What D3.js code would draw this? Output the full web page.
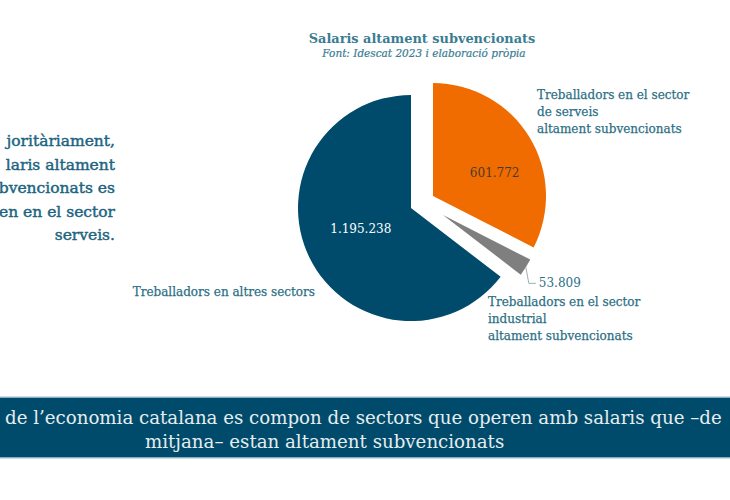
<!DOCTYPE html>
<html lang="ca">
<head>
<meta charset="UTF-8">
<title>Salaris altament subvencionats</title>
<style>
  body { margin: 0; background: #fff; }
  svg { display: block; }
</style>
</head>
<body>
<script src="https://d3js.org/d3.v7.min.js"></script>
<script>
// dades (Idescat 2023)
const sectors = ["serveis", "industrial", "altres"];
const treballadors = [601772, 53809, 1195238];
const etiquetes = [
  ["Treballadors en el sector", "de serveis", "altament subvencionats"],
  ["Treballadors en el sector", "industrial", "altament subvencionats"],
  ["Treballadors en altres sectors"]
];
const colors = ["#f06c00", "#7f7f7f", "#004b6b"];

// text tal com es veu (retallat pel marge esquerre)
const textEsquerra = ["joritàriament,", "laris altament", "bvencionats es", "en en el sector", "serveis."];
const textBanda = ["de l’economia catalana es compon de sectors que operen amb salaris que –de", "mitjana– estan altament subvencionats"];

const width = 730, height = 500;
const serif = "'DejaVu Serif', 'Liberation Serif', serif";
const teal = "#2c6f85";

const svg = d3.select("body").append("svg")
  .attr("width", width)
  .attr("height", height);

// titol
svg.append("text")
  .attr("x", 422).attr("y", 43)
  .attr("text-anchor", "middle")
  .attr("font-family", serif).attr("font-size", 12.9).attr("font-weight", "bold")
  .attr("fill", "#3a7d92")
  .text("Salaris altament subvencionats");
svg.append("text")
  .attr("x", 424).attr("y", 57)
  .attr("text-anchor", "middle")
  .attr("font-family", serif).attr("font-size", 10.5).attr("font-style", "italic")
  .attr("fill", "#3a7d92")
  .attr("stroke", "#3a7d92").attr("stroke-width", 0.2)
  .text("Font: Idescat 2023 i elaboració pròpia");

// pastis
const cx = 411, cy = 208;
const radi = [113, 98, 113];
const desplac = [[22, -12], [32, 7], [0, 0]]; // explosio de cada porcio
const posValor = [[1.28, 15], null, [1.05, -5]];   // factor de radi i ajust vertical

const pie = d3.pie().sort(null).value(d => d)(treballadors);
const fmt = d3.formatLocale({ decimal: ",", thousands: ".", grouping: [3], currency: ["", "€"] }).format(",d");

const g = svg.append("g").attr("transform", `translate(${cx},${cy})`);

const slices = g.selectAll("g.slice")
  .data(pie)
  .join("g")
  .attr("class", "slice")
  .attr("transform", (d, i) => `translate(${desplac[i][0]},${desplac[i][1]})`);

slices.append("path")
  .attr("d", (d, i) => d3.arc().innerRadius(0).outerRadius(radi[i])(d))
  .attr("fill", (d, i) => colors[i]);

// valors dins les porcions grans
slices.filter(d => d.index !== 1)
  .append("text")
  .attr("transform", d => {
    const k = d.index;
    const c = d3.arc().innerRadius(0).outerRadius(radi[k] * posValor[k][0]).centroid(d);
    return `translate(${c[0] + (k === 2 ? 3 : 0)},${c[1] + posValor[k][1]})`;
  })
  .attr("text-anchor", "middle")
  .attr("dominant-baseline", "central")
  .attr("font-family", serif).attr("font-size", 12)
  .attr("fill", d => d.index === 0 ? "#4a3a30" : "#ffffff")
  .text(d => fmt(d.value));

// valor de la porcio petita amb linia guia
const petita = pie[1];
const aMig = (petita.startAngle + petita.endAngle) / 2;
const p0 = [desplac[1][0] + Math.sin(aMig) * radi[1], desplac[1][1] - Math.cos(aMig) * radi[1]];
const p1 = [p0[0] + 3, p0[1] + 16];
g.append("polyline")
  .attr("points", [p0, p1, [p1[0] + 7, p1[1]]].map(p => p.join(",")).join(" "))
  .attr("fill", "none")
  .attr("stroke", "#9bb0bb")
  .attr("stroke-width", 1);
g.append("text")
  .attr("x", p1[0] + 10).attr("y", p1[1])
  .attr("dominant-baseline", "central")
  .attr("font-family", serif).attr("font-size", 12)
  .attr("fill", teal)
  .text(fmt(petita.value));

// etiquetes de categoria
const posEtiq = [[537, 99, "start"], [488, 306, "start"], [315, 296, "end"]];
etiquetes.forEach((lines, i) => {
  const t = svg.append("text")
    .attr("font-family", serif).attr("font-size", 12)
    .attr("fill", teal)
    .attr("stroke", teal).attr("stroke-width", 0.25)
    .attr("text-anchor", posEtiq[i][2]);
  lines.forEach((l, j) => {
    t.append("tspan").attr("x", posEtiq[i][0]).attr("y", posEtiq[i][1] + j * 17).text(l);
  });
});

// text lateral
const lat = svg.append("text")
  .attr("font-family", serif).attr("font-size", 15.5)
  .attr("fill", "#1d6480")
  .attr("stroke", "#1d6480").attr("stroke-width", 0.45)
  .attr("text-anchor", "end");
textEsquerra.forEach((l, j) => {
  lat.append("tspan").attr("x", 115).attr("y", 146 + j * 23.5).text(l);
});

// banda inferior
svg.append("rect")
  .attr("x", -2).attr("y", 397).attr("width", width + 4).attr("height", 61)
  .attr("fill", "#004b6b")
  .attr("stroke", "#b9d2dc").attr("stroke-width", 1.5);
svg.selectAll("text.banda")
  .data(textBanda)
  .join("text")
  .attr("class", "banda")
  .attr("x", (d, i) => i === 0 ? 5 : 145)
  .attr("y", (d, i) => 424 + i * 24)
  .attr("font-family", serif).attr("font-size", 18.2)
  .attr("fill", "#e6edf0")
  .text(d => d);
</script>
</body>
</html>
